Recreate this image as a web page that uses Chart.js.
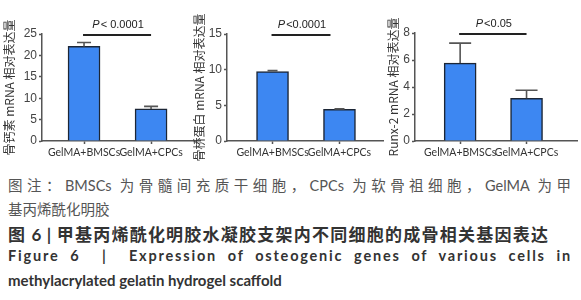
<!DOCTYPE html>
<html>
<head>
<meta charset="utf-8">
<script src="https://cdn.jsdelivr.net/npm/chart.js@4/dist/chart.umd.min.js"></script>
<style>
  html, body { margin: 0; padding: 0; background: #fff; }
  body { width: 581px; height: 300px; position: relative; overflow: hidden; }
  .cv { position: absolute; top: 0; height: 165px; }
  .cap { position: absolute; left: 8px; line-height: 20px; white-space: nowrap; }
  .just { text-align: justify; text-align-last: justify; }
</style>
</head>
<body>
<div class="cv" style="left:0;width:201px"><canvas id="c1"></canvas></div>
<div class="cv" style="left:190px;width:195px"><canvas id="c2"></canvas></div>
<div class="cv" style="left:385px;width:196px"><canvas id="c3"></canvas></div>

<div class="cap just" style="top:174px;width:563px;font:14.5px Lato,'Noto Sans CJK SC',sans-serif;color:#555">图注：BMSCs 为骨髓间充质干细胞，CPCs 为软骨祖细胞，GelMA 为甲</div>
<div class="cap" style="top:198px;font:14.5px 'Noto Sans CJK SC',sans-serif;color:#555">基丙烯酰化明胶</div>
<div class="cap just" style="top:221px;width:540px;font:bold 17px Lato,'Noto Sans CJK SC',sans-serif;color:#333">图 6 | 甲基丙烯酰化明胶水凝胶支架内不同细胞的成骨相关基因表达</div>
<div class="cap just" style="top:247px;width:564px;font:bold 14.5px Lato,sans-serif;color:#333;letter-spacing:1.8px">Figure 6 &nbsp;| &nbsp;Expression of osteogenic genes of various cells in</div>
<div class="cap" style="top:271px;font:bold 15px Lato,sans-serif;color:#333">methylacrylated gelatin hydrogel scaffold</div>

<script>
// ---- data ----
const categories = ['GelMA+BMSCs', 'GelMA+CPCs'];

const ocnMean = [22.1, 7.5];
const ocnSD   = [0.9, 0.6];
const opnMean = [9.73, 4.43];
const opnSD   = [0.13, 0.07];
const runxMean = [5.77, 3.16];
const runxSD   = [1.48, 0.6];

const yMaxes  = [25, 15, 8];
const ySteps  = [5, 5, 2];
const pLabels = ['< 0.0001', '<0.0001', '<0.05'];
const yTitles = ['骨钙素 mRNA 相对表达量', '骨桥蛋白 mRNA 相对表达量', 'Runx-2 mRNA 相对表达量'];

// ---- plugin: error bars + significance bracket ----
const annot = {
  id: 'annot',
  afterDatasetsDraw(chart, args, opts) {
    const ctx = chart.ctx;
    const meta = chart.getDatasetMeta(0);
    const ys = chart.scales.y;
    ctx.save();
    // error bars
    ctx.strokeStyle = '#555';
    ctx.lineWidth = 1.6;
    meta.data.forEach((el, i) => {
      const top = ys.getPixelForValue(opts.mean[i] + opts.sd[i]);
      ctx.beginPath();
      ctx.moveTo(el.x, el.y);
      ctx.lineTo(el.x, top);
      ctx.moveTo(el.x - opts.cap / 2, top);
      ctx.lineTo(el.x + opts.cap / 2, top);
      ctx.stroke();
    });
    // bracket
    const x0 = meta.data[0].x, x1 = meta.data[1].x;
    const ly = ys.getPixelForValue(ys.max) + 1;
    ctx.strokeStyle = '#222';
    ctx.lineWidth = 2;
    ctx.beginPath();
    ctx.moveTo(x0 - 1, ly);
    ctx.lineTo(x1 - opts.shrink, ly);
    ctx.stroke();
    // label
    const cx = (x0 + x1 - opts.shrink) / 2;
    ctx.fillStyle = '#222';
    ctx.textBaseline = 'middle';
    const f1 = 'italic 11px "Liberation Sans", Arial, sans-serif';
    const f2 = '11px "Liberation Sans", Arial, sans-serif';
    ctx.font = f1; const w1 = ctx.measureText('P').width;
    ctx.font = f2; const w2 = ctx.measureText(opts.p).width;
    const sx = cx - (w1 + w2) / 2;
    ctx.textAlign = 'left';
    ctx.font = f1; ctx.fillText('P', sx, ly - 10);
    ctx.font = f2; ctx.fillText(opts.p, sx + w1 + 1, ly - 10);
    ctx.restore();
  }
};

function makeChart(id, mean, sd, idx, cfg) {
  const pts = categories.map((c, i) => ({ x: i, y: mean[i] }));
  return new Chart(document.getElementById(id), {
    type: 'bar',
    data: {
      datasets: [{
        data: pts,
        backgroundColor: '#3d87f2',
        borderColor: '#1c2636',
        borderWidth: 1.5,
        barThickness: 32
      }]
    },
    options: {
      responsive: true,
      maintainAspectRatio: false,
      animation: false,
      layout: { padding: { top: cfg.top, right: cfg.right, left: 0, bottom: 0 } },
      plugins: {
        legend: { display: false },
        tooltip: { enabled: false },
        annot: { mean: mean, sd: sd, cap: cfg.cap, p: pLabels[idx], shrink: cfg.shrink }
      },
      scales: {
        x: {
          type: 'linear',
          offset: false,
          min: cfg.xmin,
          max: cfg.xmax,
          grid: { display: true, offset: false, drawOnChartArea: false, tickLength: 3, color: '#555', tickWidth: 1.5 },
          border: { display: true, color: '#555', width: 1.5 },
          afterBuildTicks(s) { s.ticks = categories.map((c, i) => ({ value: i })); },
          ticks: {
            autoSkip: false,
            maxRotation: 0,
            padding: 2,
            color: '#333',
            font: { family: 'Lato, "Liberation Sans", sans-serif', size: 10.5 },
            callback: (v) => categories[v]
          },
          afterFit(s) { s.height = 24; }
        },
        y: {
          min: 0,
          max: yMaxes[idx],
          ticks: {
            stepSize: ySteps[idx],
            color: '#444',
            padding: 2,
            font: { family: '"Liberation Sans", Arial, sans-serif', size: 12 }
          },
          grid: { display: true, drawOnChartArea: false, tickLength: 3, color: '#555', tickWidth: 1.5 },
          border: { display: true, color: '#555', width: 1.5 },
          title: {
            display: true,
            text: yTitles[idx],
            color: '#333',
            padding: { top: cfg.tpad, bottom: 0 },
            font: { family: '"Noto Sans CJK SC", sans-serif', size: 12 }
          },
          afterFit(s) { s.width = cfg.yw; }
        }
      }
    },
    plugins: [annot]
  });
}

makeChart('c1', ocnMean, ocnSD, 0, { top: 34, right: 1, yw: 42, xmin: -0.627, xmax: 1.73, cap: 14, tpad: 2, shrink: 0 });
makeChart('c2', opnMean, opnSD, 1, { top: 34, right: 2, yw: 37, xmin: -0.68, xmax: 1.65, cap: 10, tpad: 2, shrink: 9 });
makeChart('c3', runxMean, runxSD, 2, { top: 33, right: 4, yw: 30, xmin: -0.68, xmax: 1.76, cap: 22, tpad: 1, shrink: 0 });
</script>
</body>
</html>
